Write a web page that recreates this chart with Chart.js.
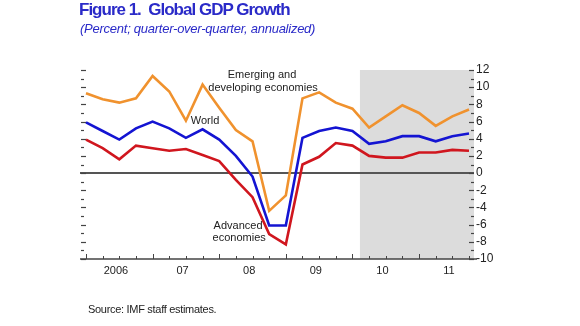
<!DOCTYPE html>
<html lang="en">
<head>
<meta charset="UTF-8" />
<title>Figure 1. Global GDP Growth</title>
<script src="https://cdn.jsdelivr.net/npm/chart.js"></script>
<style>
  body { margin: 0; background: #fff; font-family: "Liberation Sans", Arial, sans-serif; }
  #wrap { position: relative; width: 580px; height: 326px; overflow: hidden; }
  #gdpChart { position: absolute; left: 0; top: 0; }
  .title { position: absolute; left: 79px; top: 1px; line-height: 17px; font-size: 17px; font-weight: bold;
           color: #2a2ac8; letter-spacing: -1px; white-space: pre; }
  .subtitle { position: absolute; left: 80px; top: 22px; line-height: 13px; font-size: 13px; font-style: italic;
              color: #2a2ac8; letter-spacing: -0.25px; white-space: pre; }
  .source { position: absolute; left: 88px; top: 304px; line-height: 11px; font-size: 11px; color: #222;
            letter-spacing: -0.3px; white-space: pre; }
</style>
</head>
<body>
<div id="wrap">
  <canvas id="gdpChart" width="580" height="326"></canvas>
  <div class="title">Figure 1.  Global GDP Growth</div>
  <div class="subtitle">(Percent; quarter-over-quarter, annualized)</div>
  <div class="source">Source: IMF staff estimates.</div>
</div>

<script>
  // quarters 2006Q1 .. 2011Q4
  const quarters = [
    '2006Q1', '2006Q2', '2006Q3', '2006Q4', '2007Q1', '2007Q2', '2007Q3', '2007Q4',
    '2008Q1', '2008Q2', '2008Q3', '2008Q4', '2009Q1', '2009Q2', '2009Q3', '2009Q4',
    '2010Q1', '2010Q2', '2010Q3', '2010Q4', '2011Q1', '2011Q2', '2011Q3', '2011Q4'
  ];
  const years = ['2006', '07', '08', '09', '10', '11'];
  const yTicks = [12, 10, 8, 6, 4, 2, 0, -2, -4, -6, -8, -10];

  const emerging = [9.3, 8.6, 8.2, 8.7, 11.3, 9.5, 6.1, 10.3, 7.6, 5.0, 3.7, -4.4,
                    -2.6, 8.7, 9.4, 8.2, 7.5, 5.3, 6.6, 7.9, 7.0, 5.5, 6.6, 7.4];
  const world = [5.9, 4.9, 3.9, 5.2, 6.0, 5.2, 4.1, 5.1, 3.9, 2.0, -0.4, -6.1,
                 -6.1, 4.1, 4.9, 5.3, 4.9, 3.4, 3.7, 4.3, 4.3, 3.7, 4.3, 4.6];
  const advanced = [3.9, 2.9, 1.6, 3.2, 2.9, 2.6, 2.8, 2.1, 1.4, -0.8, -2.8, -7.1,
                    -8.3, 1.0, 1.9, 3.5, 3.2, 2.0, 1.8, 1.8, 2.4, 2.4, 2.7, 2.6];

  // projections shaded from mid 2010Q1 onward (quarter index)
  const projectionStart = 16.45;

  // line labels, in data coordinates (quarter index, percent)
  const notes = [
    { text: 'Emerging and', x: 10.57, y: 11.45 },
    { text: 'developing economies', x: 10.63, y: 9.95 },
    { text: 'World', x: 7.15, y: 6.1 },
    { text: 'Advanced', x: 9.13, y: -6.1 },
    { text: 'economies', x: 9.2, y: -7.5 }
  ];

  const toPoints = arr => arr.map((v, i) => ({ x: i, y: v }));

  const decor = {
    id: 'decor',
    beforeDatasetsDraw(chart) {
      const { ctx, chartArea: a, scales: { x, y } } = chart;
      ctx.save();
      // shaded projection area
      const sx = x.getPixelForValue(projectionStart);
      ctx.fillStyle = '#dcdcdc';
      ctx.fillRect(sx, a.top, a.right - sx, a.bottom - a.top);

      const seg = (x1, y1, x2, y2) => { ctx.beginPath(); ctx.moveTo(x1, y1); ctx.lineTo(x2, y2); ctx.stroke(); };

      // zero line
      const y0 = y.getPixelForValue(0);
      ctx.strokeStyle = '#555';
      ctx.lineWidth = 2;
      seg(a.left, y0, a.right, y0);

      // bottom axis + quarter ticks
      ctx.strokeStyle = '#444';
      ctx.lineWidth = 1.5;
      seg(a.left, a.bottom, a.right + 3, a.bottom);
      ctx.lineWidth = 1;
      quarters.forEach((q, i) => {
        const px = Math.round(x.getPixelForValue(i)) + 0.5;
        seg(px, a.bottom, px, a.bottom - (i % 4 === 0 ? 5 : 3));
      });

      // unit ticks on both sides
      ctx.lineWidth = 1.2;
      for (let v = -10; v <= 12; v++) {
        const py = Math.round(y.getPixelForValue(v)) + 0.5;
        const len = v % 2 === 0 ? 5 : 3;
        seg(a.left + 1, py, a.left + 1 + len, py);
        seg(a.right - len, py, a.right, py);
      }
      ctx.restore();
    },
    afterDatasetsDraw(chart) {
      const { ctx, scales: { x, y } } = chart;
      ctx.save();
      ctx.font = '11px "Liberation Sans", Arial, sans-serif';
      ctx.fillStyle = '#222';
      ctx.textAlign = 'center';
      ctx.textBaseline = 'middle';
      notes.forEach(n => ctx.fillText(n.text, x.getPixelForValue(n.x), y.getPixelForValue(n.y)));
      ctx.restore();
    }
  };

  Chart.defaults.font.family = '"Liberation Sans", Arial, sans-serif';

  new Chart(document.getElementById('gdpChart'), {
    type: 'line',
    data: {
      datasets: [
        { label: 'Emerging and developing economies', data: toPoints(emerging), borderColor: '#f0922e' },
        { label: 'World', data: toPoints(world), borderColor: '#1414d2' },
        { label: 'Advanced economies', data: toPoints(advanced), borderColor: '#d0161e' }
      ].map(d => Object.assign(d, { borderWidth: 2.6, pointRadius: 0, tension: 0, fill: false }))
    },
    options: {
      responsive: false,
      animation: false,
      layout: { padding: { left: 80, top: 70, right: 76, bottom: 47 } },
      plugins: { legend: { display: false }, tooltip: { enabled: false } },
      scales: {
        x: {
          type: 'linear', min: -0.36, max: 23.3,
          afterBuildTicks: s => { s.ticks = years.map((_, k) => ({ value: 4 * k + 1.8 })); },
          ticks: { callback: (v, i) => years[i], autoSkip: false, maxRotation: 0, font: { size: 11 }, color: '#222', padding: 5 },
          grid: { display: false, drawTicks: false },
          border: { display: false },
          afterFit: s => { s.height = 20; }
        },
        y: {
          position: 'right', min: -10, max: 12,
          afterBuildTicks: s => { s.ticks = yTicks.map(v => ({ value: v })); },
          ticks: { callback: v => String(v), autoSkip: false, font: { size: 12 }, color: '#222', padding: 2 },
          grid: { display: false, drawTicks: false },
          border: { display: false },
          afterFit: s => { s.width = 30; }
        }
      }
    },
    plugins: [decor]
  });
</script>
</body>
</html>
